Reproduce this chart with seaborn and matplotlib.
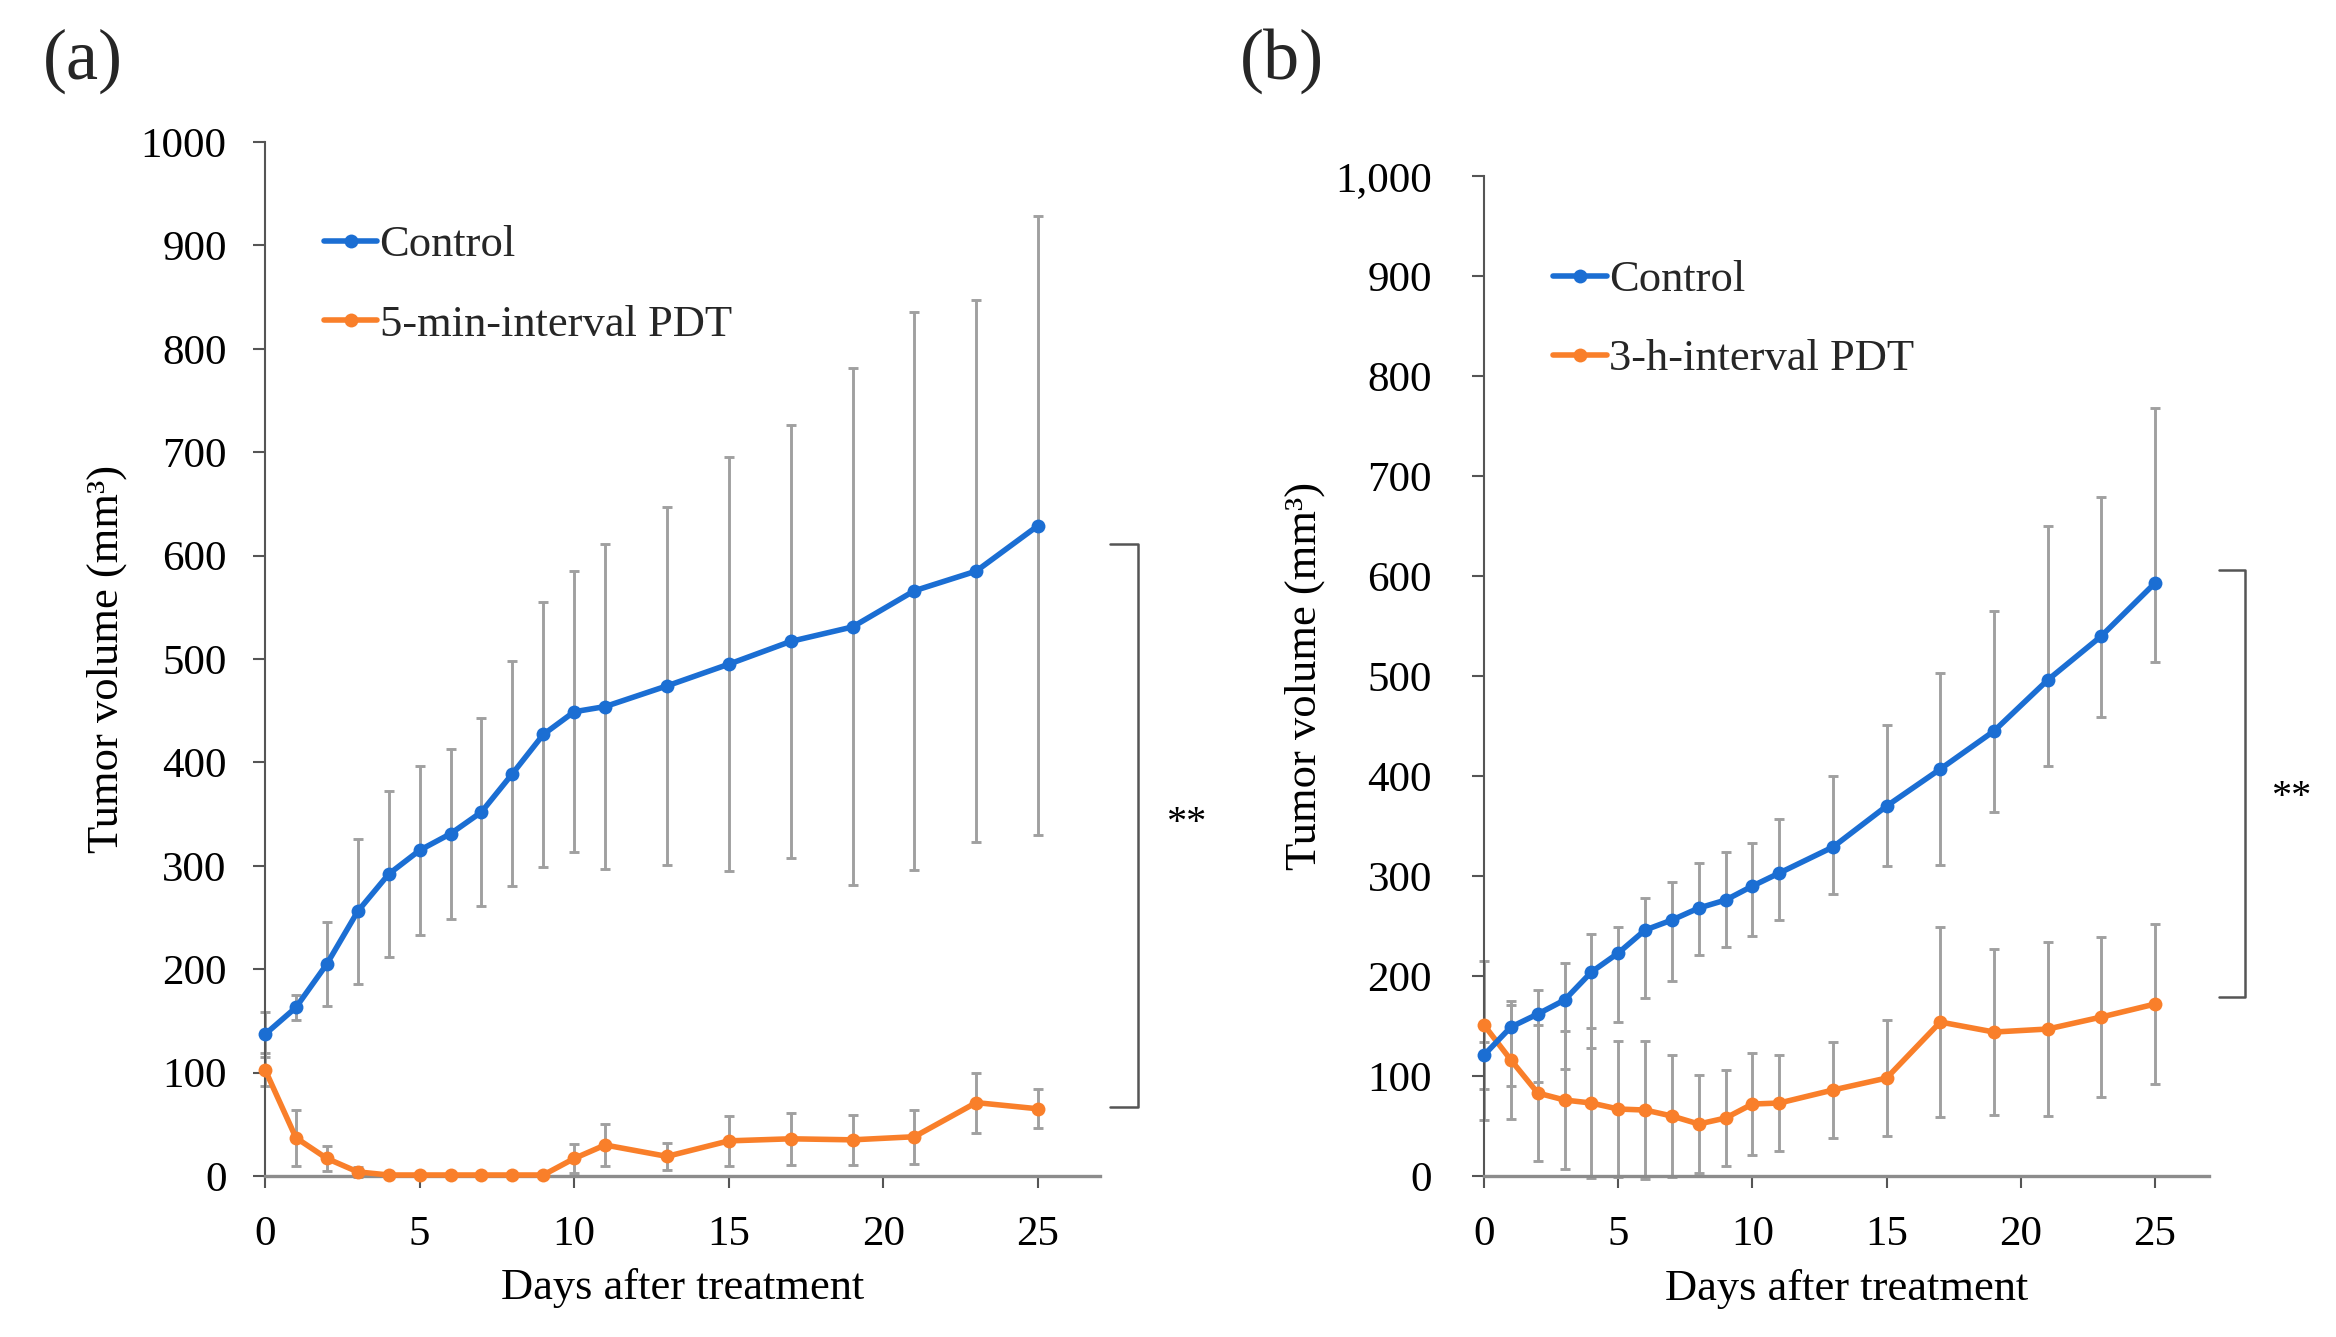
import matplotlib
matplotlib.use('Agg')
import matplotlib.pyplot as plt
import seaborn as sns
import pandas as pd

# days measured (same for both experiments)
days = [0, 1, 2, 3, 4, 5, 6, 7, 8, 9, 10, 11, 13, 15, 17, 19, 21, 23, 25]

# (a) control vs 5-min-interval PDT
ctrl_a = [137, 163, 205, 256, 292, 315, 331, 352, 389, 427, 449, 454, 474, 495, 517, 531, 566, 585, 629]
ctrl_a_err = [22, 12, 41, 70, 80, 82, 82, 91, 109, 128, 136, 157, 173, 200, 209, 250, 270, 262, 299]
pdt_a = [103, 37, 17, 4, 1, 1, 1, 1, 1, 1, 17, 30, 19, 34, 36, 35, 38, 71, 65]
pdt_a_err = [16, 27, 12, 5, 1, 1, 1, 1, 1, 1, 14, 20, 13, 24, 25, 24, 26, 29, 19]

# (b) control vs 3-h-interval PDT
ctrl_b = [121, 149, 162, 176, 204, 223, 246, 256, 268, 276, 290, 303, 329, 370, 407, 445, 496, 540, 593]
ctrl_b_err_up = [13, 22, 24, 37, 38, 26, 32, 38, 45, 48, 43, 54, 71, 81, 96, 120, 154, 139, 175]
ctrl_b_err_low = [65, 59, 68, 69, 76, 69, 68, 61, 47, 47, 50, 47, 47, 60, 96, 81, 86, 81, 79]
pdt_b = [151, 116, 83, 76, 73, 67, 66, 60, 52, 58, 72, 73, 86, 98, 154, 144, 147, 159, 172]
pdt_b_err = [64, 59, 68, 69, 75, 68, 69, 61, 49, 48, 51, 48, 48, 58, 95, 83, 87, 80, 80]

yticks = list(range(0, 1001, 100))
ytick_labels_a = [str(v) for v in yticks]
ytick_labels_b = [f"{v:,}" for v in yticks]
xticks = [0, 5, 10, 15, 20, 25]

# significance brackets: (x inner, x outer, y top, y bottom, star x, star y)
bracket_a = (27.33, 28.23, 611, 67, 29.8, 332)
bracket_b = (27.38, 28.35, 606, 179, 30.07, 369)

BLUE = '#1B6ED3'
ORANGE = '#F97F2A'
GREY = '#a0a0a0'

sns.set_theme(style='white')
plt.rcParams['font.family'] = ['Liberation Serif', 'DejaVu Serif']

fig = plt.figure(figsize=(23.36, 13.37), dpi=100)
ax_a = fig.add_axes([0.11344, 0.1204, 0.3574, 0.7734])
ax_b = fig.add_axes([0.6353, 0.1204, 0.3102, 0.7479])


def draw_panel(ax, ctrl, ctrl_err, pdt, pdt_err, pdt_label, ylabels, ypad, ylab_x, xlab_y, leg_xy, bracket):
    df = pd.DataFrame({'day': days, 'ctrl': ctrl, 'pdt': pdt})
    # error bars first so the lines sit on top
    for y, e in [(ctrl, ctrl_err), (pdt, pdt_err)]:
        ax.errorbar(days, y, yerr=e, fmt='none', ecolor=GREY, elinewidth=2.1,
                    capsize=3.6, capthick=2.1, zorder=2, clip_on=False)
    sns.lineplot(data=df, x='day', y='ctrl', ax=ax, color=BLUE, marker='o', markersize=10,
                 markeredgewidth=0, linewidth=4, label='Control', zorder=4, clip_on=False)
    sns.lineplot(data=df, x='day', y='pdt', ax=ax, color=ORANGE, marker='o', markersize=10,
                 markeredgewidth=0, linewidth=4, label=pdt_label, zorder=3, clip_on=False)

    ax.set_xlim(0, 27)
    ax.set_ylim(0, 1000)
    ax.set_xticks(xticks)
    ax.set_xticklabels([str(v) for v in xticks])
    ax.set_yticks(yticks)
    ax.set_yticklabels(ylabels)
    sns.despine(ax=ax)
    ax.spines['left'].set_color('#555555')
    ax.spines['left'].set_linewidth(1.5)
    ax.spines['bottom'].set_color('#8c8c8c')
    ax.spines['bottom'].set_linewidth(2.4)
    ax.tick_params(axis='y', direction='out', left=True, length=8.6, width=1.5,
                   color='#555555', pad=ypad, labelsize=31, labelcolor='black')
    ax.tick_params(axis='x', direction='out', bottom=True, length=8.6, width=1.5,
                   color='#555555', pad=20, labelsize=31, labelcolor='black')
    ax.grid(False)

    ax.set_ylabel('Tumor volume (mm³)', fontsize=32, va='center', color='black')
    ax.yaxis.set_label_coords(ylab_x, 0.5)
    ax.set_xlabel('Days after treatment', fontsize=32, va='baseline', color='black')
    ax.xaxis.set_label_coords(0.5, xlab_y)

    ax.legend(loc='upper left', bbox_to_anchor=leg_xy, borderaxespad=0, borderpad=0,
              frameon=False, fontsize=32, handlelength=1.2, handletextpad=0.05,
              labelspacing=0.88)

    x0, x1, ytop, ybot, sx, sy = bracket
    ax.plot([x0, x1, x1, x0], [ytop, ytop, ybot, ybot], color='#555555', lw=1.8,
            clip_on=False, zorder=1)
    ax.text(sx, sy, '**', fontsize=29, ha='center', va='baseline', color='black')


draw_panel(ax_a, ctrl_a, ctrl_a_err, pdt_a, pdt_a_err, '5-min-interval PDT',
           ytick_labels_a, 19, -0.190, -0.119, (0.0707, 0.9195), bracket_a)
draw_panel(ax_b, ctrl_b, [ctrl_b_err_low, ctrl_b_err_up], pdt_b, pdt_b_err, '3-h-interval PDT',
           ytick_labels_b, 29, -0.248, -0.124, (0.0954, 0.916), bracket_b)

fig.text(43 / 2336, 1 - 61 / 1337, '(a)', fontsize=52, ha='left', va='center')
fig.text(1240 / 2336, 1 - 61 / 1337, '(b)', fontsize=52, ha='left', va='center')

fig.savefig('out.png', dpi=100, facecolor='white')
